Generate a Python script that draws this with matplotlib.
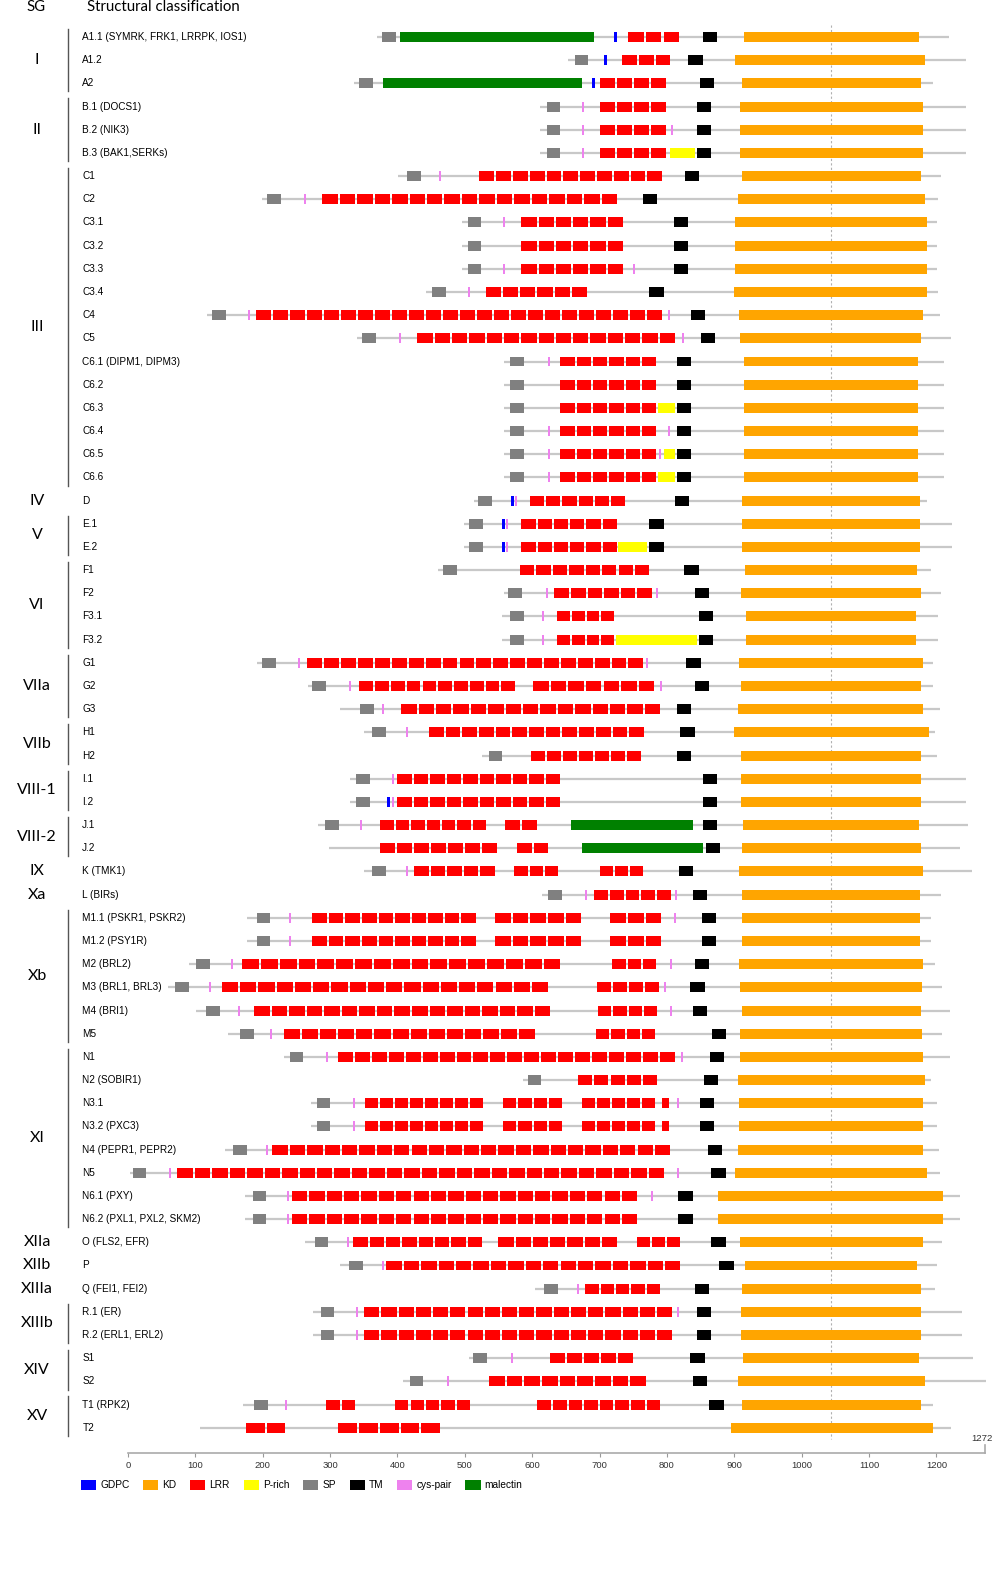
import matplotlib
matplotlib.use("Agg")
import matplotlib.pyplot as plt
from matplotlib.patches import Patch

# ---- data (positions in amino acids) ----
names = ["A1.1 (SYMRK, FRK1, LRRPK, IOS1)", "A1.2", "A2", "B.1 (DOCS1)", "B.2 (NIK3)",
         "B.3 (BAK1,SERKs)", "C1", "C2", "C3.1", "C3.2", "C3.3", "C3.4", "C4", "C5",
         "C6.1 (DIPM1, DIPM3)", "C6.2", "C6.3", "C6.4", "C6.5", "C6.6", "D", "E.1", "E.2",
         "F1", "F2", "F3.1", "F3.2", "G1", "G2", "G3", "H1", "H2", "I.1", "I.2", "J.1", "J.2",
         "K (TMK1)", "L (BIRs)", "M1.1 (PSKR1, PSKR2)", "M1.2 (PSY1R)", "M2 (BRL2)",
         "M3 (BRL1, BRL3)", "M4 (BRI1)", "M5", "N1", "N2 (SOBIR1)", "N3.1", "N3.2 (PXC3)",
         "N4 (PEPR1, PEPR2)", "N5", "N6.1 (PXY)", "N6.2 (PXL1, PXL2, SKM2)", "O (FLS2, EFR)",
         "P", "Q (FEI1, FEI2)", "R.1 (ER)", "R.2 (ERL1, ERL2)", "S1", "S2", "T1 (RPK2)", "T2"]

seq = [(369, 1218), (653, 1243), (335, 1194), (611, 1242), (611, 1242), (611, 1242),
       (400, 1206), (199, 1201), (495, 1200), (495, 1200), (495, 1200), (442, 1201),
       (117, 1204), (340, 1221), (558, 1210), (558, 1210), (558, 1210), (558, 1210),
       (558, 1210), (558, 1210), (513, 1184), (498, 1222), (498, 1222), (460, 1191),
       (558, 1206), (555, 1201), (555, 1201), (191, 1194), (267, 1193), (314, 1204),
       (350, 1197), (525, 1200), (329, 1242), (329, 1242), (282, 1246), (298, 1233),
       (350, 1252), (614, 1206), (177, 1191), (177, 1191), (90, 1197), (59, 1207),
       (101, 1219), (148, 1207), (231, 1219), (586, 1190), (271, 1199), (271, 1199),
       (144, 1203), (3, 1204), (174, 1233), (174, 1233), (263, 1207), (314, 1200),
       (604, 1196), (274, 1236), (274, 1236), (506, 1253), (408, 1272), (171, 1193),
       (107, 1221)]

sp = [377, 662, 343, 621, 621, 621, 414, 206, 504, 504, 504, 451, 125, 347,
      567, 567, 567, 567, 567, 567, 519, 506, 506, 467, 564, 567, 567, 199, 273, 344,
      362, 535, 338, 338, 292, None, 362, 623, 191, 191, 101, 70, 116, 166, 240, 593,
      280, 280, 156, 7, 185, 185, 277, 328, 617, 286, 286, 512, 418, 187, None]

tm = [853, 831, 848, 844, 844, 844, 826, 764, 810, 810, 810, 773, 835, 850,
      814, 814, 814, 814, 814, 814, 811, 773, 773, 825, 840, 846, 846, 828, 840, 814,
      819, 814, 853, 853, 853, 857, 817, 838, 851, 851, 841, 834, 837, 866, 863, 854,
      848, 848, 860, 865, 816, 816, 865, 877, 841, 843, 843, 834, 838, 862, None]

kd = [(914, 1173), (900, 1182), (911, 1176), (908, 1179), (908, 1179), (908, 1179),
      (911, 1176), (905, 1182), (900, 1185), (900, 1185), (900, 1185), (899, 1185),
      (906, 1179), (908, 1176), (914, 1172), (914, 1172), (914, 1172), (914, 1172),
      (914, 1172), (914, 1172), (911, 1175), (911, 1175), (911, 1175), (915, 1170),
      (909, 1176), (917, 1169), (917, 1169), (906, 1179), (909, 1176), (905, 1179),
      (899, 1187), (909, 1176), (909, 1176), (909, 1176), (912, 1173), (911, 1176),
      (906, 1179), (911, 1175), (911, 1175), (911, 1175), (906, 1179), (908, 1178),
      (911, 1176), (908, 1178), (908, 1179), (905, 1182), (906, 1179), (906, 1179),
      (905, 1179), (900, 1185), (875, 1209), (875, 1209), (908, 1179), (915, 1170),
      (911, 1176), (909, 1176), (909, 1176), (912, 1173), (905, 1182), (911, 1176),
      (894, 1193)]

# LRR groups: (start, end, number of repeats)
lrr = [[(742, 817, 3)], [(733, 804, 3)], [(700, 798, 4)],
       [(700, 798, 4)], [(700, 798, 4)], [(700, 798, 4)],
       [(521, 792, 11)], [(288, 725, 17)], [(583, 734, 6)], [(583, 734, 6)],
       [(583, 734, 6)], [(530, 681, 6)], [(190, 792, 24)], [(429, 811, 15)],
       [(641, 783, 6)], [(641, 783, 6)], [(641, 783, 6)], [(641, 783, 6)],
       [(641, 783, 6)], [(641, 783, 6)], [(596, 737, 6)], [(583, 725, 6)],
       [(583, 725, 6)], [(581, 773, 8)], [(632, 777, 6)], [(636, 721, 4)],
       [(636, 721, 4)], [(266, 764, 20)], [(343, 574, 10), (601, 780, 7)],
       [(405, 789, 15)], [(446, 765, 13)], [(598, 761, 7)], [(399, 641, 10)],
       [(399, 641, 10)], [(374, 531, 7), (559, 607, 2)], [(374, 547, 7), (577, 623, 2)],
       [(424, 544, 5), (573, 638, 3), (700, 764, 3)], [(691, 805, 5)],
       [(273, 516, 10), (544, 672, 5), (715, 791, 3)],
       [(273, 516, 10), (544, 672, 5), (715, 791, 3)],
       [(169, 641, 17), (718, 783, 3)], [(139, 623, 18), (696, 788, 4)],
       [(187, 626, 17), (697, 785, 4)], [(231, 604, 14), (694, 782, 4)],
       [(311, 811, 20)], [(667, 785, 5)],
       [(352, 527, 8), (556, 644, 4), (673, 782, 5), (792, 802, 1)],
       [(352, 527, 8), (556, 644, 4), (673, 782, 5), (792, 802, 1)],
       [(214, 804, 23)], [(73, 795, 28)], [(243, 755, 20)], [(243, 755, 20)],
       [(334, 525, 8), (549, 725, 7), (755, 819, 3)], [(383, 819, 17)],
       [(678, 789, 5)], [(350, 807, 18)], [(350, 807, 18)], [(626, 749, 5)],
       [(535, 768, 9)], [(294, 337, 2), (396, 507, 5), (607, 789, 8)],
       [(175, 233, 2), (311, 463, 5)]]

cys = [[], [], [], [673], [673, 805], [673], [461], [261], [556], [], [556, 748], [504],
       [178, 801], [402, 822], [622], [], [], [622, 801], [622, 788], [622], [574], [561],
       [561], [], [619, 783], [614], [614], [252, 768], [328, 789], [377], [412], [],
       [392], [392], [344], [], [412], [678, 811], [239, 810], [239], [153, 804],
       [120, 794], [163, 804], [211], [294, 820], [], [334, 814], [334], [205], [61, 814],
       [236, 776], [236], [325], [377], [666], [338, 814], [338], [568], [473], [233], []]

gdpc = {0: [721], 1: [706], 2: [688], 20: [568], 21: [555], 22: [555], 33: [384]}
prich = {5: (803, 841), 16: (786, 811), 18: (794, 811), 19: (786, 811),
         22: (727, 770), 26: (724, 843)}
malectin = {0: (403, 691), 2: (378, 673), 34: (657, 837), 35: (673, 853)}

groups = [("I", 0, 2), ("II", 3, 5), ("III", 6, 19), ("IV", 20, 20), ("V", 21, 22),
          ("VI", 23, 26), ("VIIa", 27, 29), ("VIIb", 30, 31), ("VIII-1", 32, 33),
          ("VIII-2", 34, 35), ("IX", 36, 36), ("Xa", 37, 37), ("Xb", 38, 43),
          ("XI", 44, 51), ("XIIa", 52, 52), ("XIIb", 53, 53), ("XIIIa", 54, 54),
          ("XIIIb", 55, 56), ("XIV", 57, 58), ("XV", 59, 60)]

colors = {"GDPC": "#0000ff", "KD": "#ffa500", "LRR": "#ff0000", "P-rich": "#ffff00",
          "SP": "#808080", "TM": "#000000", "cys-pair": "#ee82ee", "malectin": "#008000"}

SP_LEN, TM_LEN, CYS_W, GDPC_W, GAP = 20, 21, 3, 4.5, 3
H = 0.43

# ---- figure ----
fig = plt.figure(figsize=(10, 15.71), dpi=100)
ax = fig.add_axes([0, 0, 1, 1])
ax.set_xlim(-190, 1293)
ax.set_ylim(66.18, -1.596)
ax.axis("off")

lab_font = "Liberation Sans"
head_font = "Lato"

# dashed reference line
ax.plot([1043, 1043], [-0.5, 60.5], color="#b0b0b0", lw=0.8, ls=(0, (2, 2)), zorder=0.5)

for i, name in enumerate(names):
    ax.text(-68, i, name, fontsize=7.2, family=lab_font, va="center", ha="left")
    s, e = seq[i]
    ax.plot([s, e], [i, i], color="#c8c8c8", lw=1.6, zorder=1, solid_capstyle="butt")
    yb = (i - H / 2, H)
    if sp[i] is not None:
        ax.broken_barh([(sp[i], SP_LEN)], yb, facecolors=colors["SP"], zorder=2)
    if i in malectin:
        m0, m1 = malectin[i]
        ax.broken_barh([(m0, m1 - m0)], yb, facecolors=colors["malectin"], zorder=2)
    blocks = []
    for g0, g1, n in lrr[i]:
        w = (g1 - g0 + GAP) / n - GAP
        blocks += [(g0 + k * (w + GAP), w) for k in range(n)]
    ax.broken_barh(blocks, yb, facecolors=colors["LRR"], zorder=2)
    if i in prich:
        p0, p1 = prich[i]
        ax.broken_barh([(p0, p1 - p0)], yb, facecolors=colors["P-rich"], zorder=2)
    if cys[i]:
        ax.broken_barh([(c, CYS_W) for c in cys[i]], yb, facecolors=colors["cys-pair"], zorder=3)
    if i in gdpc:
        ax.broken_barh([(g, GDPC_W) for g in gdpc[i]], yb, facecolors=colors["GDPC"], zorder=3)
    if tm[i] is not None:
        ax.broken_barh([(tm[i], TM_LEN)], yb, facecolors=colors["TM"], zorder=2)
    k0, k1 = kd[i]
    ax.broken_barh([(k0, k1 - k0)], yb, facecolors=colors["KD"], zorder=2)

for label, r0, r1 in groups:
    ax.text(-135, (r0 + r1) / 2, label, fontsize=11.5, family=head_font,
            ha="center", va="center")
    if r1 > r0:
        ax.plot([-89, -89], [r0 - 0.35, r1 + 0.35], color="#555555", lw=1)

ax.text(-136, -1.3, "SG", fontsize=10.8, family=head_font, ha="center", va="center")
ax.text(-61, -1.3, "Structural classification", fontsize=10.8, family=head_font,
        ha="left", va="center")

# ruler axis
rax = fig.add_axes([0.128, 1 - 1453 / 1571, 0.857, 0.005])
rax.set_xlim(0, 1272)
rax.set_ylim(0, 1)
rax.set_yticks([])
rax.set_xticks(range(0, 1300, 100))
rax.tick_params(axis="x", length=3, color="#999999", labelsize=6.8, pad=3,
                labelcolor="#333333")
for lbl in rax.get_xticklabels():
    lbl.set_family(lab_font)
for side in ["top", "left"]:
    rax.spines[side].set_visible(False)
for side in ["bottom", "right"]:
    rax.spines[side].set_color("#aaaaaa")
    rax.spines[side].set_linewidth(1.2)
rax.patch.set_alpha(0)
rax.text(1268, 1.3, "1272", fontsize=6.8, family=lab_font, ha="center", va="bottom",
         color="#333333")

handles = [Patch(facecolor=c, edgecolor="none") for c in colors.values()]
fig.legend(handles, list(colors.keys()), loc="upper left",
           bbox_to_anchor=(0.081, 1 - 1480 / 1571), ncol=8, frameon=False,
           prop={"family": lab_font, "size": 7.3}, handlelength=1.5, handleheight=1.1,
           handletextpad=0.4, columnspacing=1.35, borderpad=0, borderaxespad=0)

fig.savefig("out.png", dpi=100)
